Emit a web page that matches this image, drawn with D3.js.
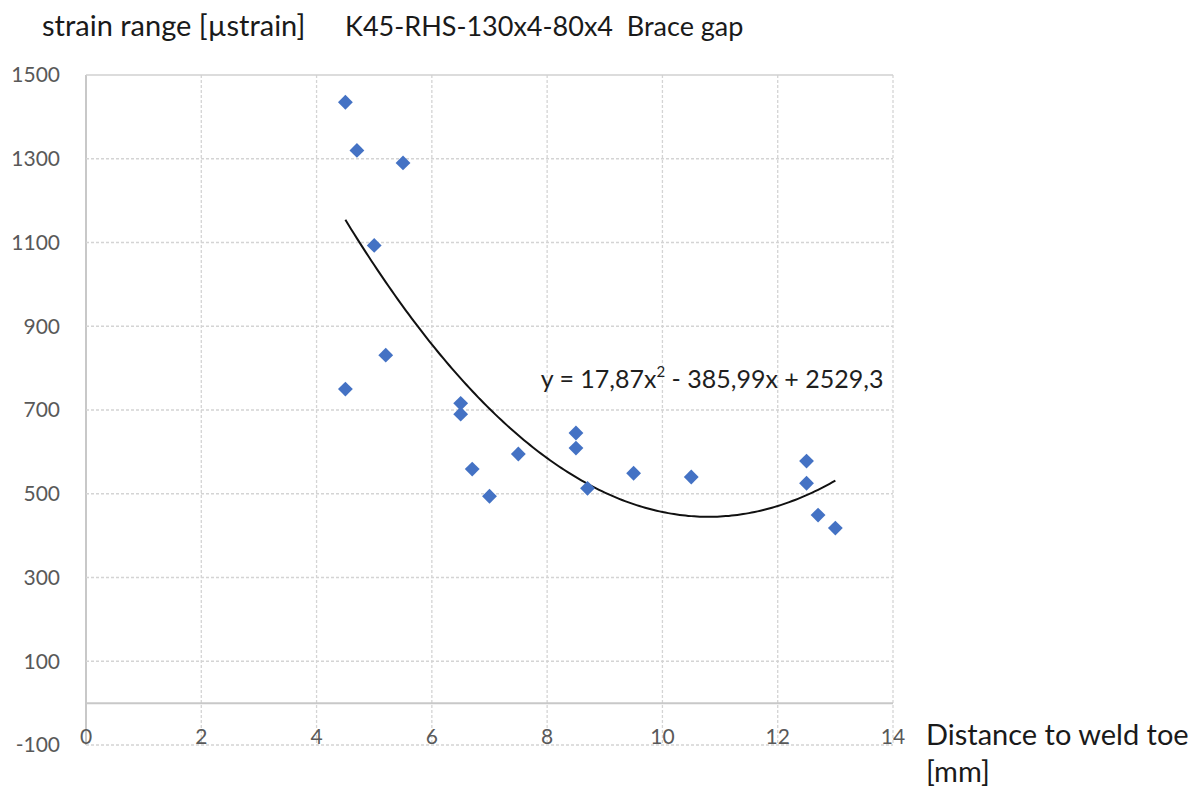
<!DOCTYPE html>
<html>
<head>
<meta charset="utf-8">
<script src="https://cdn.jsdelivr.net/npm/d3@7"></script>
<style>
  body { margin: 0; background: #fff; }
  text { font-family: Lato, "Open Sans", sans-serif; }
</style>
</head>
<body>
<div id="chart"></div>
<script>
// measured points (distance to weld toe [mm], strain range [µstrain])
const distance = [4.5, 4.7, 5.5, 5.0, 5.2, 4.5, 6.5, 6.5, 6.7, 7.0, 7.5, 8.5, 8.5, 8.7, 9.5, 10.5, 12.5, 12.5, 12.7, 13.0];
const strain = [1435, 1320, 1290, 1093, 831, 750, 716, 690, 559, 494, 595, 645, 609, 513, 549, 540, 578, 525, 449, 418];

const xTicks = [0, 2, 4, 6, 8, 10, 12, 14];
const yTicks = [-100, 100, 300, 500, 700, 900, 1100, 1300, 1500];

// polynomial trendline coefficients shown in the chart: a x^2 + b x + c
const trendCoef = [17.87, -385.99, 2529.3];

const W = 1192, H = 787;
const margin = { top: 75, right: 299, bottom: 42, left: 86 };
const width = W - margin.left - margin.right,
    height = H - margin.top - margin.bottom;

const svg = d3.select("#chart").append("svg")
    .attr("width", W)
    .attr("height", H);

const g = svg.append("g")
    .attr("transform", "translate(" + margin.left + "," + margin.top + ")");

const x = d3.scaleLinear().domain([0, 14]).range([0, width]);
const y = d3.scaleLinear().domain([-100, 1500]).range([height, 0]);

// grid
g.selectAll(".vgrid")
    .data(xTicks)
    .enter().append("line")
    .attr("x1", d => x(d)).attr("x2", d => x(d))
    .attr("y1", 0).attr("y2", height)
    .attr("stroke", d => d === 0 ? "#c8c8c8" : "#d4d4d4")
    .attr("stroke-width", d => d === 0 ? 2 : 1.3)
    .attr("stroke-dasharray", d => d === 0 ? null : "3,2");

g.selectAll(".hgrid")
    .data(yTicks)
    .enter().append("line")
    .attr("x1", 0).attr("x2", width)
    .attr("y1", d => y(d)).attr("y2", d => y(d))
    .attr("stroke", d => d === 1500 ? "#d0d0d0" : "#d4d4d4")
    .attr("stroke-width", 1.3)
    .attr("stroke-dasharray", d => d === 1500 ? null : "3,2");

// horizontal axis at y = 0
g.append("line")
    .attr("x1", 0).attr("x2", width)
    .attr("y1", y(0)).attr("y2", y(0))
    .attr("stroke", "#c8c8c8")
    .attr("stroke-width", 2);

// tick labels
g.selectAll(".ylab")
    .data(yTicks)
    .enter().append("text")
    .attr("x", -26)
    .attr("y", d => y(d))
    .attr("dy", "0.35em")
    .attr("text-anchor", "end")
    .attr("font-size", "21px")
    .attr("fill", "#595959")
    .text(d => d);

g.selectAll(".xlab")
    .data(xTicks)
    .enter().append("text")
    .attr("x", d => x(d))
    .attr("y", height - 1)
    .attr("text-anchor", "middle")
    .attr("font-size", "21px")
    .attr("fill", "#595959")
    .text(d => d);

// trendline
const xs = d3.range(4.5, 13.0001, 0.05);
const line = d3.line()
    .x(d => x(d))
    .y(d => y(trendCoef[0] * d * d + trendCoef[1] * d + trendCoef[2]));

g.append("path")
    .datum(xs)
    .attr("d", line)
    .attr("fill", "none")
    .attr("stroke", "#111")
    .attr("stroke-width", 2);

// points
const pts = distance.map((d, i) => ({ x: d, y: strain[i] }));
g.selectAll(".pt")
    .data(pts)
    .enter().append("path")
    .attr("d", d3.symbol().type(d3.symbolDiamond2).size(140))
    .attr("transform", d => "translate(" + x(d.x) + "," + y(d.y) + ")")
    .attr("fill", "#4472C4");

// equation label
const eq = g.append("text")
    .attr("x", x(7.89))
    .attr("y", y(700) - 22)
    .attr("font-size", "25px")
    .attr("fill", "#1f1f1f");
eq.append("tspan").text("y = 17,87x");
eq.append("tspan").attr("dy", -11).attr("font-size", "15px").text("2");
eq.append("tspan").attr("dy", 11).text("\u00a0- 385,99x + 2529,3");

// titles
svg.append("text")
    .attr("x", 42).attr("y", 36)
    .attr("font-size", "29px")
    .attr("fill", "#1a1a1a")
    .text("strain range [\u00b5strain]");

svg.append("text")
    .attr("x", 345).attr("y", 36)
    .attr("font-size", "27px")
    .attr("fill", "#1a1a1a")
    .text("K45-RHS-130x4-80x4\u00a0 Brace gap");

svg.append("text")
    .attr("x", 926).attr("y", 745)
    .attr("font-size", "29px")
    .attr("fill", "#1a1a1a")
    .text("Distance to weld toe");

svg.append("text")
    .attr("x", 926).attr("y", 782)
    .attr("font-size", "29px")
    .attr("fill", "#1a1a1a")
    .text("[mm]");
</script>
</body>
</html>
